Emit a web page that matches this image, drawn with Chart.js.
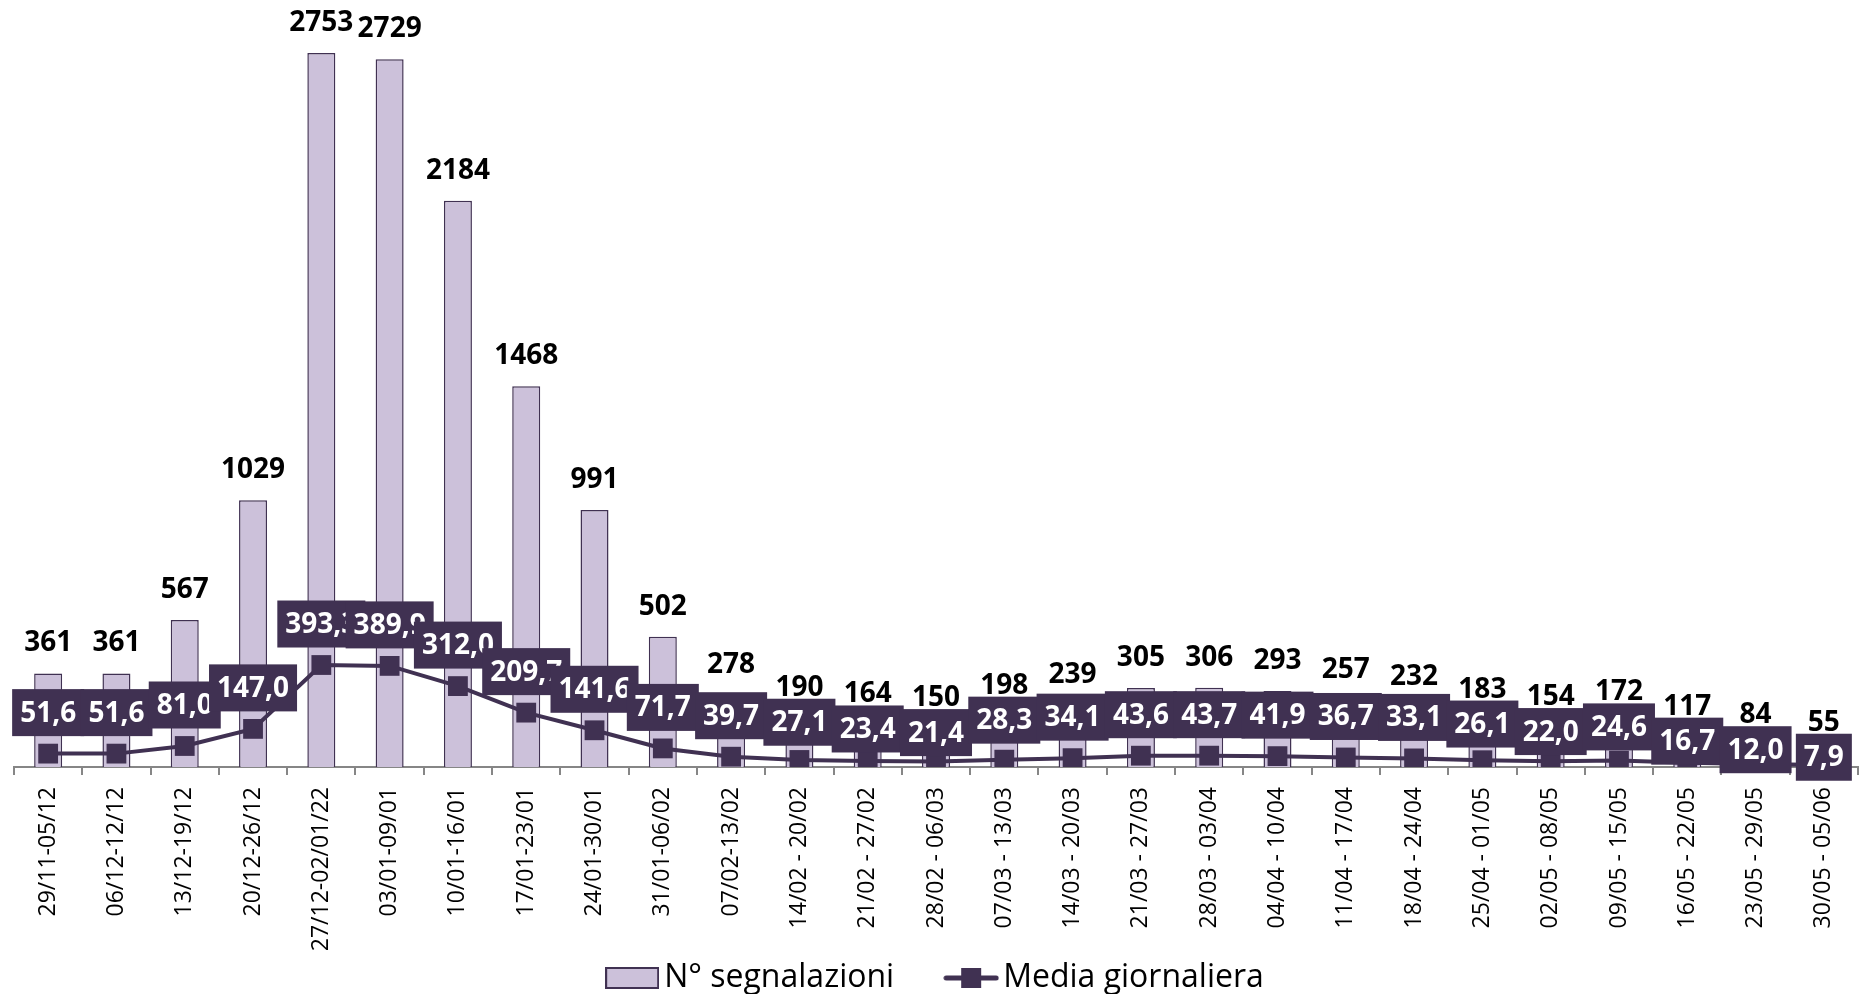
<!DOCTYPE html>
<html>
<head>
<meta charset="utf-8">
<script src="https://cdn.jsdelivr.net/npm/chart.js@4/dist/chart.umd.min.js"></script>
<style>
  html, body { margin: 0; padding: 0; background: #fff; overflow: hidden; }
  #wrap { width: 1864px; height: 994px; overflow: hidden; position: relative; }
  canvas { display: block; }
</style>
</head>
<body>
<div id="wrap"><canvas id="c" width="1872" height="994"></canvas></div>
<script>
const weeks = [
  "29/11-05/12", "06/12-12/12", "13/12-19/12", "20/12-26/12", "27/12-02/01/22",
  "03/01-09/01", "10/01-16/01", "17/01-23/01", "24/01-30/01", "31/01-06/02",
  "07/02-13/02", "14/02 - 20/02", "21/02 - 27/02", "28/02 - 06/03", "07/03 - 13/03",
  "14/03 - 20/03", "21/03 - 27/03", "28/03 - 03/04", "04/04 - 10/04", "11/04 - 17/04",
  "18/04 - 24/04", "25/04 - 01/05", "02/05 - 08/05", "09/05 - 15/05", "16/05 - 22/05",
  "23/05 - 29/05", "30/05 - 05/06"
];
const reports = [
  361, 361, 567, 1029, 2753, 2729, 2184, 1468, 991, 502,
  278, 190, 164, 150, 198, 239, 305, 306, 293, 257,
  232, 183, 154, 172, 117, 84, 55
];
const dailyAverage = [
  51.6, 51.6, 81.0, 147.0, 393.3, 389.9, 312.0, 209.7, 141.6, 71.7,
  39.7, 27.1, 23.4, 21.4, 28.3, 34.1, 43.6, 43.7, 41.9, 36.7,
  33.1, 26.1, 22.0, 24.6, 16.7, 12.0, 7.9
];
const seriesNames = ["N° segnalazioni", "Media giornaliera"];

const BAR_FILL = '#CCC1DA';
const DARK = '#403152';
const AXIS_GREY = '#868686';
const FONT = '"Open Sans", "Noto Sans", sans-serif';

function fmt(v) { return v.toFixed(1).replace('.', ','); }

function barIcon() {
  const c = document.createElement('canvas');
  c.width = 54; c.height = 22;
  const g = c.getContext('2d');
  g.fillStyle = BAR_FILL; g.fillRect(1, 1, 52, 20);
  g.strokeStyle = DARK; g.lineWidth = 2; g.strokeRect(1, 1, 52, 20);
  return c;
}
function lineIcon() {
  const c = document.createElement('canvas');
  c.width = 56; c.height = 22;
  const g = c.getContext('2d');
  g.strokeStyle = DARK; g.lineWidth = 5; g.lineCap = 'round';
  g.beginPath(); g.moveTo(3, 11); g.lineTo(53, 11); g.stroke();
  g.fillStyle = DARK; g.fillRect(18, 1, 20, 20);
  return c;
}
const icons = [barIcon(), lineIcon()];

const valueLabels = {
  id: 'valueLabels',
  afterDatasetsDraw(chart) {
    const ctx = chart.ctx;
    const barMeta = chart.getDatasetMeta(0);
    const lineMeta = chart.getDatasetMeta(1);
    const BAR_GAP = 30, BOX_GAP = 41, BOX_H = 47, HALF_DIGIT = 11;
    ctx.save();
    ctx.font = 'bold 28px ' + FONT;
    ctx.textAlign = 'center';
    ctx.textBaseline = 'middle';
    ctx.fillStyle = '#000';
    barMeta.data.forEach((bar, i) => {
      ctx.fillText(String(reports[i]), bar.x, bar.y - BAR_GAP);
    });
    lineMeta.data.forEach((pt, i) => {
      const txt = fmt(dailyAverage[i]);
      const w = ctx.measureText(txt).width + 16;
      // place above the marker, but not over the bar's own value label
      let top = pt.y - BOX_GAP - BOX_H / 2;
      const barLabelBottom = barMeta.data[i].y - BAR_GAP + HALF_DIGIT;
      if (top < barLabelBottom) top = barLabelBottom;
      ctx.fillStyle = DARK;
      ctx.fillRect(pt.x - w / 2, top, w, BOX_H);
      ctx.fillStyle = '#fff';
      ctx.fillText(txt, pt.x, top + BOX_H / 2 + 1);
    });
    ctx.restore();
  }
};

new Chart(document.getElementById('c'), {
  data: {
    labels: weeks,
    datasets: [
      {
        type: 'bar',
        label: seriesNames[0],
        data: reports,
        backgroundColor: BAR_FILL,
        borderColor: DARK,
        borderWidth: 1.5,
        categoryPercentage: 1,
        barPercentage: 0.41,
        order: 2
      },
      {
        type: 'line',
        label: seriesNames[1],
        data: dailyAverage,
        borderColor: DARK,
        backgroundColor: DARK,
        borderWidth: 4,
        pointStyle: 'rect',
        pointRadius: 14,
        pointBackgroundColor: DARK,
        pointBorderColor: DARK,
        pointBorderWidth: 0,
        tension: 0,
        fill: false,
        order: 1
      }
    ]
  },
  options: {
    responsive: false,
    animation: false,
    devicePixelRatio: 1,
    layout: { padding: { left: 10, right: 2, top: 15, bottom: 0 } },
    scales: {
      x: {
        offset: true,
        grid: {
          display: true,
          drawOnChartArea: false,
          drawTicks: true,
          tickLength: 8,
          color: AXIS_GREY,
          lineWidth: 2,
          offset: true
        },
        border: { display: true, color: AXIS_GREY, width: 2 },
        ticks: {
          autoSkip: false,
          minRotation: 90,
          maxRotation: 90,
          padding: 12,
          color: '#000',
          font: { family: FONT, size: 23 }
        },
        afterFit(scale) {
          scale.height = 134;
          // let the rotated labels run past the scale box, as in the original
          scale._computeLabelArea = () => undefined;
        }
      },
      y: {
        display: false,
        min: 0,
        max: 2900
      }
    },
    plugins: {
      tooltip: { enabled: false },
      legend: {
        display: true,
        position: 'bottom',
        maxHeight: 93,
        labels: {
          usePointStyle: true,
          pointStyleWidth: 32,
          padding: 61,
          color: '#000',
          font: { family: FONT, size: 32 },
          generateLabels: () => seriesNames.map((name, i) => ({
            text: name,
            pointStyle: icons[i],
            fillStyle: i === 0 ? BAR_FILL : DARK,
            strokeStyle: DARK,
            lineWidth: 0,
            hidden: false,
            datasetIndex: i,
            fontColor: '#000'
          }))
        }
      }
    }
  },
  plugins: [valueLabels]
});
</script>
</body>
</html>
